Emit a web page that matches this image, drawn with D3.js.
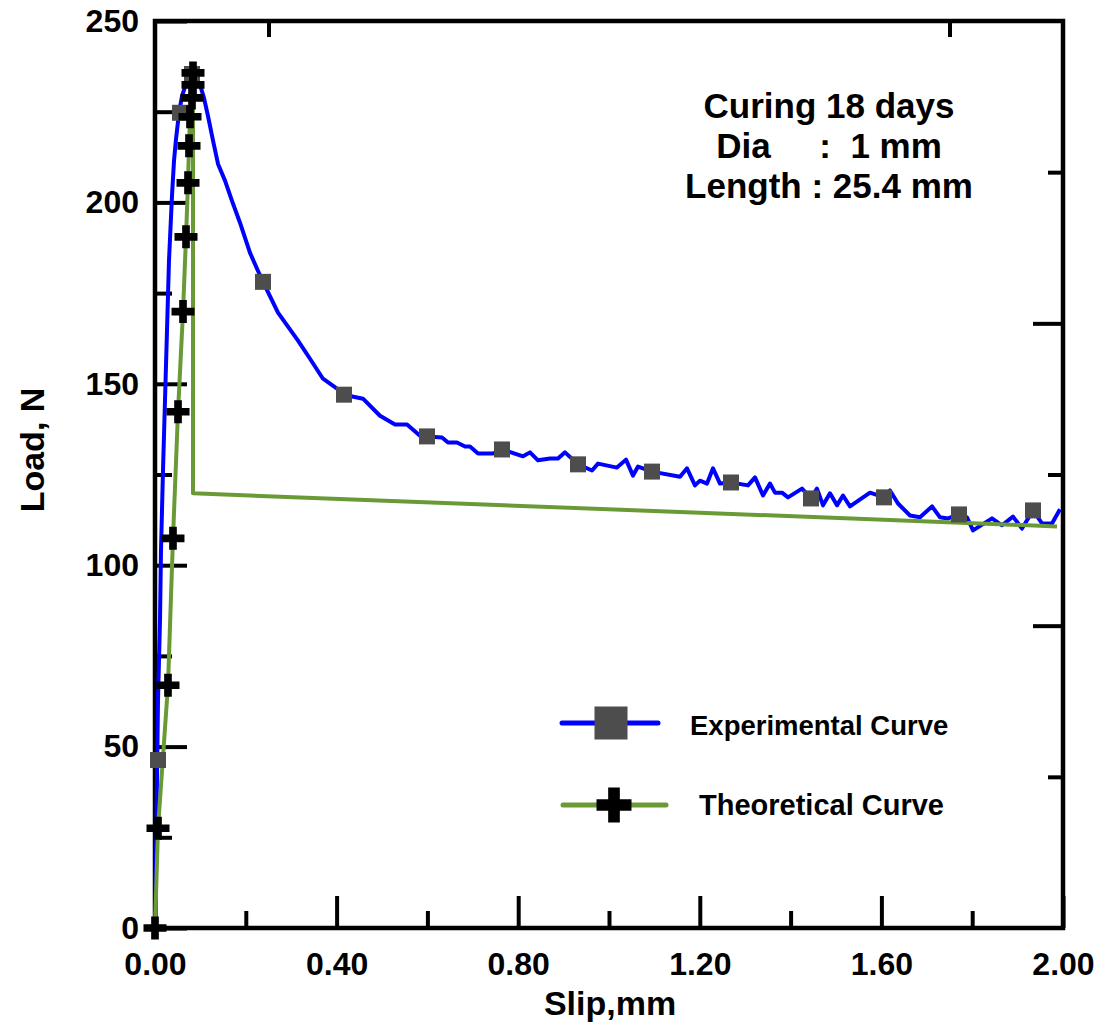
<!DOCTYPE html>
<html>
<head>
<meta charset="utf-8">
<script src="https://cdn.jsdelivr.net/npm/d3@7"></script>
<style>
  body { margin: 0; background: #fff; }
  text { font-family: 'Liberation Sans', Arial, sans-serif; font-weight: bold; fill: #000; }
  .axis text { font-size: 32px; }
  .axis line { stroke: #000; stroke-width: 4; }
</style>
</head>
<body>
<div id="chart"></div>
<script>
// experimental curve (blue line)
const slipExp = [0, 0.0022, 0.0044, 0.0066, 0.011, 0.0132, 0.0176, 0.022, 0.0264, 0.0308, 0.0374, 0.0419, 0.0463,
  0.0529, 0.0595, 0.0683, 0.0771, 0.0837, 0.0991, 0.1079, 0.1167, 0.1278, 0.1388, 0.1542, 0.1696, 0.1872, 0.2093,
  0.2247, 0.2379, 0.2709, 0.315, 0.3414, 0.37, 0.4009, 0.4163, 0.4581, 0.4956, 0.5286, 0.5551, 0.5837, 0.5991,
  0.6322, 0.6454, 0.6652, 0.6828, 0.6938, 0.7115, 0.7445, 0.7643, 0.8106, 0.826, 0.8436, 0.87, 0.8877, 0.9031,
  0.9317, 0.9626, 0.9758, 1.0176, 1.0374, 1.0529, 1.0639, 1.0947, 1.1564, 1.1718, 1.1894, 1.2004, 1.2159, 1.2291,
  1.2445, 1.2687, 1.3062, 1.3216, 1.3392, 1.3546, 1.3656, 1.3811, 1.3943, 1.4251, 1.4449, 1.4581, 1.4714, 1.4868,
  1.5022, 1.5154, 1.5308, 1.5749, 1.6057, 1.6189, 1.6366, 1.663, 1.685, 1.7115, 1.7291, 1.7467, 1.7709, 1.7885,
  1.8018, 1.8436, 1.8656, 1.8899, 1.9097, 1.9339, 1.9537, 1.9758, 1.9934];
const loadExp = [0, 18.7, 40.7, 62.8, 84.8, 104.1, 126.1, 145.4, 164.6, 183.9, 201.8, 211.5, 217.5,
  224.7, 229.3, 232.7, 234.9, 235.1, 232.4, 228.8, 223.8, 217.0, 210.6, 206.0, 200.4, 194.4, 186.1,
  181.7, 178.1, 169.6, 161.9, 156.9, 151.4, 148.7, 147.0, 145.9, 141.2, 138.8, 138.8, 135.7, 135.5,
  135.2, 133.8, 133.8, 132.7, 132.7, 130.8, 130.8, 131.9, 130.0, 131.1, 128.9, 129.4, 129.4, 131.1,
  127.8, 126.1, 128.0, 126.9, 129.1, 124.7, 127.2, 125.8, 124.4, 126.7, 122.0, 123.3, 122.5, 126.7,
  122.5, 122.8, 122.0, 124.2, 119.2, 122.5, 120.0, 120.0, 118.7, 121.1, 118.4, 121.1, 116.5, 119.8,
  116.5, 119.2, 116.2, 120.0, 118.7, 120.6, 117.0, 113.7, 113.2, 116.2, 113.2, 112.9, 114.0, 113.2,
  109.6, 112.9, 111.0, 113.4, 110.1, 115.1, 111.5, 111.5, 115.4];

// square markers on the experimental curve
const slipExpMarks = [0.0066, 0.0551, 0.0815, 0.2379, 0.4163, 0.5991, 0.7643, 0.9317, 1.0947, 1.2687, 1.4449, 1.6057, 1.7709, 1.9339];
const loadExpMarks = [46.3, 224.7, 235.4, 178.1, 147.0, 135.5, 131.9, 127.8, 125.8, 122.8, 118.4, 118.7, 114.0, 115.1];

// theoretical curve: rising part with cross markers, then drop and softening branch
const slipTheo = [0, 0.0066, 0.0286, 0.0396, 0.0507, 0.0617, 0.0683, 0.0727, 0.0749, 0.0771, 0.0815, 0.0837, 0.0837];
const loadTheo = [0, 27.5, 66.9, 107.4, 142.3, 169.9, 190.5, 205.4, 215.6, 223.6, 228.8, 232.4, 235.7];
const slipTheoTail = [0.0837, 1.9868];
const loadTheoTail = [119.8, 110.7];

const yMajor = [0, 50, 100, 150, 200, 250];
const yMinor = [25, 75, 125, 175, 225];
const xMajor = [0, 0.4, 0.8, 1.2, 1.6, 2.0];
const xMinor = [0.2, 0.6, 1.0, 1.4, 1.8];
const topTicks = [0.25, 1.75];
const rightLong = [250 / 3, 500 / 3];
const rightShort = [250 / 6, 250 / 2, 1250 / 6];

const margin = { top: 21, right: 43, bottom: 98, left: 155 };
const width = 1106 - margin.left - margin.right;
const height = 1026 - margin.top - margin.bottom;

const svg = d3
  .select('#chart')
  .append('svg')
  .attr('width', 1106)
  .attr('height', 1026);

const g = svg.append('g').attr('transform', `translate(${margin.left},${margin.top})`);

const x = d3.scaleLinear().domain([0, 2]).range([0, width]);
const y = d3.scaleLinear().domain([0, 250]).range([height, 0]);

const noDomain = (sel) => sel.select('.domain').remove();

// axes
g.append('g').attr('class', 'axis')
  .call(d3.axisLeft(y).tickValues(yMajor).tickSizeInner(-32).tickSizeOuter(0).tickPadding(16).tickFormat(d3.format('d')))
  .call(noDomain);
g.append('g').attr('class', 'axis')
  .call(d3.axisLeft(y).tickValues(yMinor).tickSizeInner(-17).tickSizeOuter(0).tickFormat(() => ''))
  .call(noDomain);

g.append('g').attr('class', 'axis').attr('transform', `translate(0,${height})`)
  .call(d3.axisBottom(x).tickValues(xMajor).tickSizeInner(-32).tickSizeOuter(0).tickPadding(24).tickFormat(d3.format('.2f')))
  .call(noDomain);
g.append('g').attr('class', 'axis').attr('transform', `translate(0,${height})`)
  .call(d3.axisBottom(x).tickValues(xMinor).tickSizeInner(-17).tickSizeOuter(0).tickFormat(() => ''))
  .call(noDomain);

g.append('g').attr('class', 'axis')
  .call(d3.axisTop(x).tickValues(topTicks).tickSizeInner(-16).tickSizeOuter(0).tickFormat(() => ''))
  .call(noDomain);

g.append('g').attr('class', 'axis').attr('transform', `translate(${width},0)`)
  .call(d3.axisRight(y).tickValues(rightLong).tickSizeInner(-30).tickSizeOuter(0).tickFormat(() => ''))
  .call(noDomain);
g.append('g').attr('class', 'axis').attr('transform', `translate(${width},0)`)
  .call(d3.axisRight(y).tickValues(rightShort).tickSizeInner(-15).tickSizeOuter(0).tickFormat(() => ''))
  .call(noDomain);

g.append('rect')
  .attr('width', width)
  .attr('height', height)
  .style('fill', 'none')
  .style('stroke', '#000')
  .style('stroke-width', 4.5);

const line = d3.line().x((d) => x(d[0])).y((d) => y(d[1]));

// experimental
g.append('path')
  .datum(d3.zip(slipExp, loadExp))
  .attr('d', line)
  .style('fill', 'none')
  .style('stroke', '#0000ff')
  .style('stroke-width', 4)
  .style('stroke-linejoin', 'round');

// theoretical
g.append('path')
  .datum(d3.zip(slipTheo, loadTheo).concat(d3.zip(slipTheoTail, loadTheoTail)))
  .attr('d', line)
  .style('fill', 'none')
  .style('stroke', '#6a9a35')
  .style('stroke-width', 4)
  .style('stroke-linejoin', 'round');

g.selectAll('.sq')
  .data(d3.zip(slipExpMarks, loadExpMarks))
  .enter()
  .append('path')
  .attr('class', 'sq')
  .attr('transform', (d) => `translate(${x(d[0])},${y(d[1])})`)
  .attr('d', d3.symbol(d3.symbolSquare, 256))
  .style('fill', '#4d4d4d');

g.selectAll('.cross')
  .data(d3.zip(slipTheo, loadTheo))
  .enter()
  .append('path')
  .attr('class', 'cross')
  .attr('transform', (d) => `translate(${x(d[0])},${y(d[1])})`)
  .attr('d', d3.symbol(d3.symbolCross, 294))
  .style('fill', '#000');

// legend
const legend = svg.append('g');
legend.append('line')
  .attr('x1', 562).attr('x2', 658).attr('y1', 723).attr('y2', 723)
  .style('stroke', '#0000ff').style('stroke-width', 5).style('stroke-linecap', 'round');
legend.append('path')
  .attr('transform', 'translate(611,723)')
  .attr('d', d3.symbol(d3.symbolSquare, 1089))
  .style('fill', '#4d4d4d');
legend.append('text')
  .attr('x', 690).attr('y', 735)
  .style('font-size', '27.5px')
  .text('Experimental Curve');

legend.append('line')
  .attr('x1', 563).attr('x2', 666).attr('y1', 805).attr('y2', 805)
  .style('stroke', '#6a9a35').style('stroke-width', 5).style('stroke-linecap', 'round');
legend.append('path')
  .attr('transform', 'translate(614,805)')
  .attr('d', d3.symbol(d3.symbolCross, 680))
  .style('fill', '#000');
legend.append('text')
  .attr('x', 699).attr('y', 815)
  .style('font-size', '29px')
  .text('Theoretical Curve');

// note
const note = ['Curing 18 days', 'Dia     :  1 mm', 'Length : 25.4 mm'];
svg.append('g')
  .selectAll('text')
  .data(note)
  .enter()
  .append('text')
  .attr('x', 829)
  .attr('y', (d, i) => 118 + i * 40)
  .attr('text-anchor', 'middle')
  .style('font-size', '35px')
  .style('white-space', 'pre')
  .attr('xml:space', 'preserve')
  .text((d) => d);

// axis titles
svg.append('text')
  .attr('transform', 'translate(44,450) rotate(-90)')
  .attr('text-anchor', 'middle')
  .style('font-size', '34px')
  .text('Load, N');

svg.append('text')
  .attr('x', 610)
  .attr('y', 1015)
  .attr('text-anchor', 'middle')
  .style('font-size', '34px')
  .text('Slip,mm');
</script>
</body>
</html>
